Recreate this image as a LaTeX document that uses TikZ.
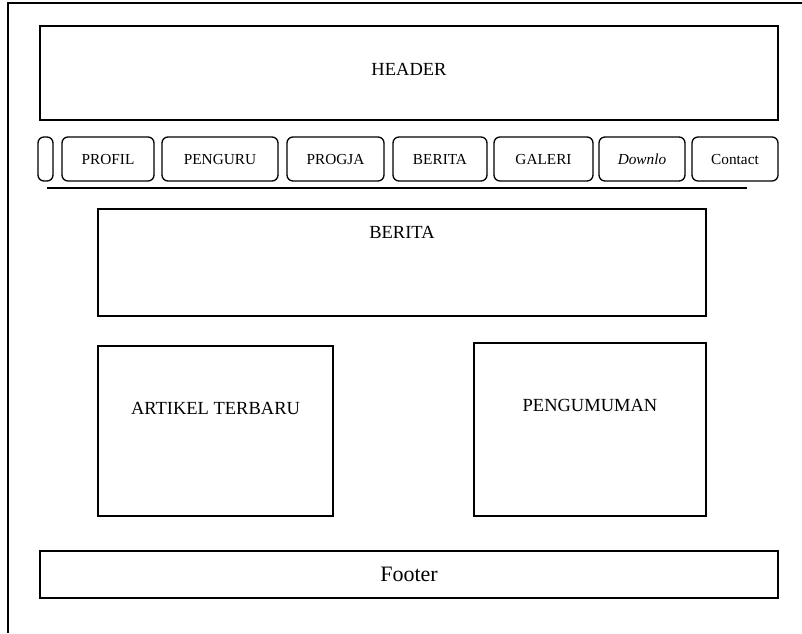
\documentclass[tikz,border=0pt]{standalone}
\usepackage{fontspec}
\setmainfont{Liberation Serif}
\tikzset{
  box/.style={draw,line width=1.6pt,inner sep=0pt},
  navbtn/.style={draw,line width=1.3pt,rounded corners=6pt,minimum height=44pt,
    inner sep=0pt,text height=10pt,text depth=0pt,font=\fontsize{15.3}{16}\selectfont},
  boxtitle/.style={anchor=north,inner sep=0pt,font=\fontsize{18.5}{20}\selectfont}
}
\begin{document}
\begin{tikzpicture}[x=1pt,y=-1pt]
      \useasboundingbox (0,0) rectangle (802,633);
      % page frame
      \draw[line width=1.2pt] (802,3) -- (8,3) -- (8,633);
      \node[box,minimum width=738pt,minimum height=94pt,text depth=7pt,
        font=\fontsize{18.5}{20}\selectfont] (header) at (409,73) {HEADER};
      % menu
      \node[navbtn,minimum width=15pt] (navstub) at (45.5,159) {};
      \node[navbtn,minimum width=92pt] (profil) at (108,159) {PROFIL};
      \node[navbtn,minimum width=116pt] (penguru) at (220,159) {PENGURU};
      \node[navbtn,minimum width=97pt] (progja) at (335.5,159) {PROGJA};
      \node[navbtn,minimum width=94pt] (beritabtn) at (440,159) {BERITA};
      \node[navbtn,minimum width=99pt] (galeri) at (543.5,159) {GALERI};
      \node[navbtn,minimum width=86pt] (downlo) at (642,159) {\itshape Downlo};
      \node[navbtn,minimum width=86pt] (contact) at (735,159) {Contact};
      \coordinate (navL) at (47,188);
      \coordinate (navR) at (747,188);
      \draw[line width=1.4pt] (navL) -- (navR);
      % content
      \node[box,minimum width=608pt,minimum height=107pt,
        label={[boxtitle,yshift=-18pt]north:BERITA}] (berita) at (402,262.5) {};
      \node[box,minimum width=235pt,minimum height=170pt,
        label={[boxtitle,yshift=-57pt]north:ARTIKEL TERBARU}] (artikel) at (215.5,431) {};
      \node[box,minimum width=232pt,minimum height=173pt,
        label={[boxtitle,yshift=-57pt]north:PENGUMUMAN}] (pengumuman) at (590,429.5) {};
      \node[box,minimum width=738pt,minimum height=47pt,
        font=\fontsize{22}{24}\selectfont] (footer) at (409,574.5) {Footer};
\end{tikzpicture}
\end{document}
